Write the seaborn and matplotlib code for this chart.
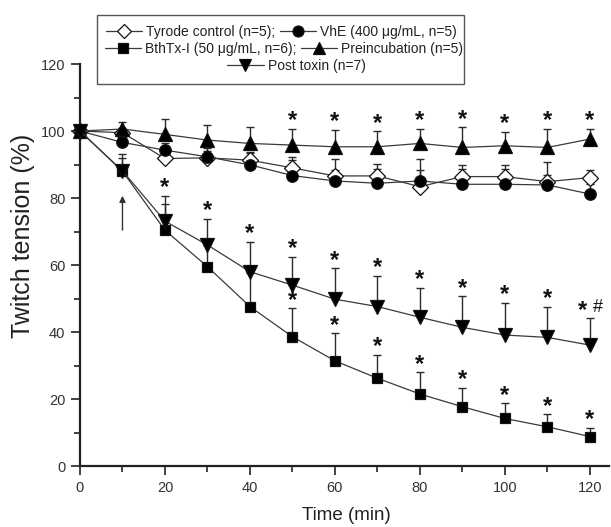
import matplotlib
matplotlib.use('Agg')
import matplotlib.pyplot as plt
import seaborn as sns
import numpy as np
from matplotlib.lines import Line2D
from matplotlib.patches import Rectangle
from matplotlib.ticker import MultipleLocator

sns.set_style("ticks")
plt.rcParams['font.family'] = ['Liberation Sans', 'DejaVu Sans']

# data (mean, upper SEM)
time = [0, 10, 20, 30, 40, 50, 60, 70, 80, 90, 100, 110, 120]
tyrode = [100, 99.5, 91.8, 92.0, 91.3, 89.0, 86.6, 86.6, 83.4, 86.4, 86.4, 84.9, 86.1]
tyrode_err = [0, 1.5, 2.0, 2.0, 2.0, 2.3, 1.8, 2.2, 5.0, 2.4, 2.4, 2.0, 2.3]
vhe = [100, 96.6, 94.3, 92.3, 89.9, 86.7, 85.1, 84.4, 85.1, 84.1, 84.1, 83.9, 81.2]
vhe_err = [0, 1.5, 2.0, 2.5, 3.9, 5.6, 6.5, 5.9, 6.5, 5.8, 5.8, 7.0, 3.0]
bthtx = [100, 88.0, 70.4, 59.5, 47.6, 38.6, 31.4, 26.2, 21.5, 17.7, 14.2, 11.7, 8.8]
bthtx_err = [0, 4.0, 7.8, 6.5, 10.0, 8.5, 8.2, 6.9, 6.5, 5.7, 4.5, 3.7, 2.6]
preinc = [100, 100.6, 99.0, 97.3, 96.3, 95.8, 95.3, 95.3, 96.3, 95.1, 95.6, 95.1, 97.6]
preinc_err = [0, 2.2, 4.5, 4.5, 4.8, 4.8, 5.0, 4.6, 4.3, 6.0, 4.2, 5.5, 3.0]
post = [100, 88.1, 73.1, 66.0, 58.0, 54.0, 49.8, 47.6, 44.4, 41.4, 39.1, 38.4, 36.1]
post_err = [0, 4.9, 7.5, 7.7, 9.0, 8.5, 9.2, 9.1, 8.8, 9.3, 9.7, 9.2, 8.0]

# significance marks (time points)
preinc_stars = [50, 60, 70, 80, 90, 100, 110, 120]
post_stars = [20, 30, 40, 50, 60, 70, 80, 90, 100, 110, 120]
bthtx_stars = [50, 60, 70, 80, 90, 100, 110, 120]
post_hash = [120]

# toxin addition arrow
arrow_time = 10
arrow_from, arrow_to = 69.6, 81.5

series = [
    ("Tyrode control (n=5);", tyrode, tyrode_err, 'D', 8.0, 'white'),
    ("VhE (400 \u03bcg/mL, n=5)", vhe, vhe_err, 'o', 8.3, 'black'),
    ("BthTx-I (50 \u03bcg/mL, n=6);", bthtx, bthtx_err, 's', 7.2, 'black'),
    ("Preincubation (n=5)", preinc, preinc_err, '^', 9.5, 'black'),
    ("Post toxin (n=7)", post, post_err, 'v', 9.5, 'black'),
]

fig = plt.figure(figsize=(6.11, 5.27), dpi=100)
ax = fig.add_axes([0.1309, 0.1157, 0.8658, 0.7628])

t = np.array(time)
handles = []
for label, vals, errs, mk, ms, fc in series:
    vals = np.array(vals)
    errs = np.array(errs)
    m = errs > 0
    ax.errorbar(t[m], vals[m], yerr=[np.zeros(m.sum()), errs[m]], fmt='none',
                ecolor='#2a2a2a', elinewidth=1.0, capsize=2.8, capthick=1.0, zorder=2)
    sns.lineplot(x=t, y=vals, ax=ax, color='#3a3a3a', linewidth=0.9, marker=mk,
                 markersize=ms, markerfacecolor=fc, markeredgecolor='#111111',
                 markeredgewidth=0.9, errorbar=None, clip_on=False, zorder=3)
    handles.append(Line2D([], [], color='#3a3a3a', linewidth=0.9, marker=mk, markersize=ms * 0.95,
                          markerfacecolor=fc, markeredgecolor='#111111', markeredgewidth=0.9))

ax.set_xlim(0, 124.5)
ax.set_ylim(0, 120)
ax.xaxis.set_major_locator(MultipleLocator(20))
ax.xaxis.set_minor_locator(MultipleLocator(10))
ax.yaxis.set_major_locator(MultipleLocator(20))
ax.yaxis.set_minor_locator(MultipleLocator(10))
ax.tick_params(which='major', length=6.5, width=1.2, colors='#222222', labelcolor='#333333',
               labelsize=10.5, pad=4)
ax.tick_params(which='minor', length=4, width=1.2, colors='#222222')
sns.despine(ax=ax)
for s in ['left', 'bottom']:
    ax.spines[s].set_linewidth(1.6)
    ax.spines[s].set_color('#222222')

ax.set_xlabel("Time (min)", fontsize=13.5, color='#222222', va='center')
ax.xaxis.set_label_coords(0.503, -0.1219)
ax.set_ylabel("")
fig.text(0.0376, 0.5522, "Twitch tension (%)", rotation=90, ha='center', va='center',
         fontsize=18, color='#222222')


def add_marks(xs, vals, errs, txt='*', dx=0, dy=1.2, size=17, weight='bold'):
    for x in xs:
        i = time.index(x)
        ax.annotate(txt, xy=(x, vals[i] + errs[i]), xytext=(dx, dy), textcoords='offset points',
                    ha='center', va='baseline', fontsize=size, fontweight=weight,
                    color='#111111', annotation_clip=False)


add_marks(preinc_stars, preinc, preinc_err)
add_marks([x for x in post_stars if x not in post_hash], post, post_err)
add_marks(post_hash, post, post_err, dx=-5.5)
add_marks(post_hash, post, post_err, txt='#', dx=5.5, dy=4.7, size=13, weight='normal')
add_marks(bthtx_stars, bthtx, bthtx_err)

ax.annotate('', xy=(arrow_time, arrow_to), xytext=(arrow_time, arrow_from),
            arrowprops=dict(arrowstyle='-|>', lw=1.0, color='#333333', mutation_scale=9))

# legend: three centred rows inside one frame
leg_kw = dict(loc='center', frameon=False, borderpad=0, fontsize=10, handlelength=2.6,
              handletextpad=0.3, columnspacing=0.35)
fig.add_artist(Rectangle((0.1588, 0.8406), 0.6007, 0.1309, transform=fig.transFigure,
                         facecolor='white', edgecolor='#555555', lw=1.0, zorder=4))
for rows, anchor in [((0, 1), (0.4607, 0.9393)), ((2, 3), (0.4648, 0.907)), ((4,), (0.4853, 0.8748))]:
    lg = fig.legend([handles[i] for i in rows], [series[i][0] for i in rows], ncol=len(rows),
                    bbox_to_anchor=anchor, **leg_kw)
    lg.set_zorder(5)
    for txt in lg.get_texts():
        txt.set_color('#222222')

fig.savefig("out.png", dpi=100, facecolor='white')
